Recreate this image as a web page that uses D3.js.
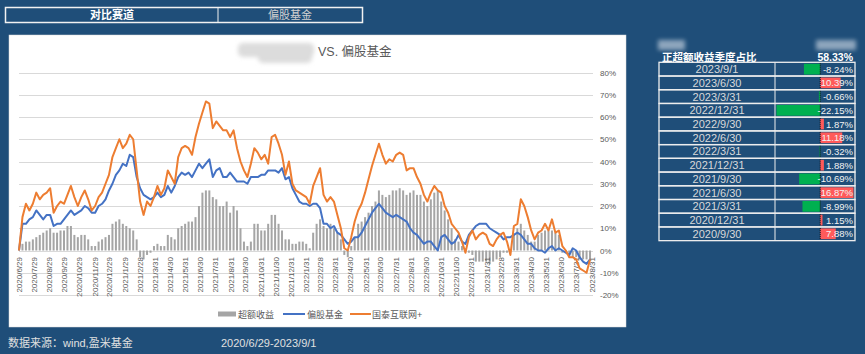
<!DOCTYPE html>
<html>
<head>
<meta charset="utf-8">
<script src="https://cdn.jsdelivr.net/npm/d3@7"></script>
<style>
  body { margin: 0; background: #1f4e79; }
  svg { display: block; font-family: "Liberation Sans", "Noto Sans CJK SC", sans-serif; }
</style>
</head>
<body>
<svg id="chart" width="865" height="354"></svg>
<script>
// ---- data (weekly samples from 2020/6/29) ----
const START = new Date(2020, 5, 29);
const END = new Date(2023, 8, 1);

const xTickLabels = [
  "2020/6/29", "2020/7/29", "2020/8/29", "2020/9/29", "2020/10/29", "2020/11/29", "2020/12/29",
  "2021/1/29", "2021/2/28", "2021/3/31", "2021/4/30", "2021/5/31", "2021/6/30", "2021/7/31",
  "2021/8/31", "2021/9/30", "2021/10/31", "2021/11/30", "2021/12/31", "2022/1/31", "2022/2/28",
  "2022/3/31", "2022/4/30", "2022/5/31", "2022/6/30", "2022/7/31", "2022/8/31", "2022/9/30",
  "2022/10/31", "2022/11/30", "2022/12/31", "2023/1/31", "2023/2/28", "2023/3/31", "2023/4/30",
  "2023/5/31", "2023/6/30", "2023/7/31", "2023/8/31",
];
const yTicks = [-20, -10, 0, 10, 20, 30, 40, 50, 60, 70, 80];

// 国泰互联网+ cumulative return (%)
const guotai = [
  0, 15, 21, 18, 21, 26, 23, 25, 26, 28, 17, 20, 22, 21, 25, 29, 24, 20, 24, 27,
  23, 18, 20, 24, 26, 30, 34, 42, 46, 50, 46, 48, 52, 50, 36, 22, 16, 22, 20, 24,
  29, 25, 28, 36, 33, 30, 42, 46, 47, 46, 43, 51, 57, 62, 67, 66, 55, 58, 56, 54,
  54, 51, 54, 46, 40, 36, 33, 39, 46, 44, 41, 43, 39, 51, 52, 48, 43, 34, 40, 30,
  27, 26, 25, 24, 21, 29, 33, 37, 25, 22, 24, 22, 16, 10, 1, 0, 6, 13, 18, 21,
  26, 32, 38, 43, 48, 43, 39, 41, 40, 43, 44, 43, 36, 37, 37, 33, 30, 25, 22, 26,
  29, 27, 26, 20, 17, 12, 10, 8, 4, -1, 6, 9, 5, 7, 8, 7, 3, 2, 5, 7,
  8, 4, -2, 11, 12, 23, 20, 15, 9, 5, 8, 9, 12, 9, 14, 8, 9, 2, 0, -3,
  -3, -4, -8, -9, -10, -4,
];
// 偏股基金 cumulative return (%)
const fundIndex = [
  0, 12, 12, 14, 15, 18, 16, 14, 16, 16, 11, 12, 12, 14, 16, 18, 16, 17, 18, 20,
  19, 17, 17, 20, 21, 23, 27, 30, 34, 36, 39, 38, 43, 42, 33, 28, 25, 24, 23, 24,
  26, 24, 25, 29, 26, 29, 33, 35, 34, 35, 33, 36, 39, 37, 39, 41, 33, 36, 37, 33,
  33, 35, 33, 31, 31, 31, 30, 33, 33, 33, 34, 34, 36, 36, 36, 35, 37, 32, 33, 28,
  25, 22, 21, 21, 20, 21, 21, 19, 12, 12, 10, 11, 8, 7, 5, 3, 4, 6, 6, 8,
  11, 14, 17, 19, 21, 19, 17, 16, 15, 16, 15, 14, 13, 10, 8, 7, 5, 3, 4, 4,
  2, 0, 6, 7, 5, 3, 4, 7, 4, 3, 7, 9, 11, 12, 12, 12, 10, 9, 8, 7,
  5, 6, 6, 7, 8, 7, 5, 3, 3, 1, 0, 0, -1, 1, 2, 0, 1, 0, -1, -2,
  1, 0, -3, -5, -6, -4,
];
// 超额收益 (%)
const excess = [
  0, 3, 4, 4, 5, 6, 7, 8, 9, 10, 8, 8, 9, 9, 11, 11, 7, 6, 7, 7,
  5, 2, 2, 4, 5, 6, 7, 12, 13, 14, 12, 11, 10, 9, 5, -3, -4, -2, -1, 2,
  3, 2, 2, 7, 6, 5, 10, 11, 12, 13, 13, 15, 20, 26, 27, 27, 24, 23, 20, 20,
  22, 17, 20, 18, 10, 4, 2, 4, 12, 12, 9, 9, 12, 16, 16, 12, 9, 5, 5, 3,
  3, 4, 4, 3, 1, 8, 12, 14, 11, 10, 12, 10, 8, 5, -2, -3, 2, 6, 12, 13,
  15, 17, 20, 22, 27, 25, 24, 25, 27, 27, 28, 27, 25, 26, 27, 25, 25, 22, 20, 23,
  26, 27, 22, 18, 14, 10, 5, 4, 2, 1, -1, -2, -5, -5, -5, -5, -6, -5, -4, -3,
  -1, -1, 0, 7, 10, 12, 9, 7, 4, 4, 7, 8, 9, 9, 9, 8, 7, -1, -1, -3,
  -3, -3, -4, -4, -4, -4,
];
const seriesNames = ["超额收益", "偏股基金", "国泰互联网+"];

const quarterDates = [
  "2023/9/1", "2023/6/30", "2023/3/31", "2022/12/31", "2022/9/30", "2022/6/30", "2022/3/31",
  "2021/12/31", "2021/9/30", "2021/6/30", "2021/3/31", "2020/12/31", "2020/9/30",
];
const quarterExcess = [-8.24, 10.39, -0.66, -22.15, 1.87, 11.18, -0.32, 1.88, -10.69, 16.87, -8.99, 1.15, 7.88];
const positiveShare = "58.33%";
const headerCells = ["对比赛道", "偏股基金"];

const COLORS = {
  bg: "#1f4e79",
  excess: "#a5a5a5",
  fund: "#4472c4",
  guotai: "#ed7d31",
  grid: "#d9d9d9",
  axisText: "#595959",
  up: "#ff5a5a",
  down: "#00b050",
};

const svg = d3.select("#chart");
const defs = svg.append("defs");
defs.append("filter").attr("id", "blur").attr("x", "-30%").attr("y", "-60%").attr("width", "160%").attr("height", "220%")
  .append("feGaussianBlur").attr("stdDeviation", 2.2);

// ---- header box ----
const hdr = svg.append("g");
hdr.append("rect").attr("x", 5.5).attr("y", 7.5).attr("width", 357).attr("height", 15)
  .attr("fill", "none").attr("stroke", "#f2f2f2").attr("stroke-width", 1.5);
hdr.append("line").attr("x1", 218).attr("x2", 218).attr("y1", 7.5).attr("y2", 22.5)
  .attr("stroke", "#f2f2f2").attr("stroke-width", 1);
hdr.append("text").attr("x", 112).attr("y", 19).attr("text-anchor", "middle")
  .attr("font-size", 11).attr("font-weight", "bold").attr("fill", "#ffffff").text(headerCells[0]);
hdr.append("text").attr("x", 290).attr("y", 19).attr("text-anchor", "middle")
  .attr("font-size", 11).attr("fill", "#d0d0d0").text(headerCells[1]);

// ---- chart panel ----
svg.append("rect").attr("x", 9).attr("y", 35).attr("width", 617).attr("height", 292)
  .attr("fill", "#ffffff").attr("stroke", "#d9d9d9").attr("stroke-width", 0.5);

// blurred name before the title
const blurG = svg.append("g").attr("filter", "url(#blur)").attr("fill", "#dcdcdc");
blurG.append("rect").attr("x", 238).attr("y", 43).attr("width", 76).attr("height", 14).attr("rx", 5);
blurG.append("rect").attr("x", 258).attr("y", 52).attr("width", 54).attr("height", 11).attr("rx", 5);
svg.append("text").attr("x", 318).attr("y", 56).attr("font-size", 12.5).attr("fill", COLORS.axisText)
  .text("VS. 偏股基金");

const weeks = d3.range(excess.length).map((i) => d3.timeDay.offset(START, i * 7));
const x = d3.scaleTime().domain([START, END]).range([19, 592]);
const y = d3.scaleLinear().domain([-20, 80]).range([295, 72.5]);
const parse = d3.timeParse("%Y/%m/%d");

// gridlines + right y labels
const grid = svg.append("g");
grid.selectAll("line").data(yTicks).join("line")
  .attr("x1", 19).attr("x2", 593)
  .attr("y1", (d) => Math.round(y(d)) + 0.5).attr("y2", (d) => Math.round(y(d)) + 0.5)
  .attr("stroke", COLORS.grid).attr("stroke-width", 1);
grid.selectAll("text").data(yTicks).join("text")
  .attr("x", 600).attr("y", (d) => y(d) + 3)
  .attr("font-size", 8).attr("fill", COLORS.axisText)
  .text((d) => `${d}%`);

// excess bars
svg.append("g").selectAll("rect").data(excess).join("rect")
  .attr("x", (d, i) => x(weeks[i]) - 1)
  .attr("width", 2)
  .attr("y", (d) => Math.min(y(d), y(0)))
  .attr("height", (d) => Math.abs(y(d) - y(0)))
  .attr("fill", COLORS.excess);

// x labels (rotated)
svg.append("g").selectAll("text").data(xTickLabels).join("text")
  .attr("transform", (d) => `translate(${x(parse(d)) + 3},257) rotate(-90)`)
  .attr("text-anchor", "end")
  .attr("font-size", 8).attr("fill", COLORS.axisText)
  .text((d) => d);

// lines
const line = d3.line().x((d, i) => x(weeks[i])).y((d) => y(d));
svg.append("path").datum(fundIndex).attr("d", line)
  .attr("fill", "none").attr("stroke", COLORS.fund).attr("stroke-width", 2).attr("stroke-linejoin", "round");
svg.append("path").datum(guotai).attr("d", line)
  .attr("fill", "none").attr("stroke", COLORS.guotai).attr("stroke-width", 2).attr("stroke-linejoin", "round");

// legend
const legend = svg.append("g");
const legendX = [218, 283, 350];
legend.append("rect").attr("x", legendX[0]).attr("y", 311.5).attr("width", 18).attr("height", 5).attr("fill", COLORS.excess);
legend.append("line").attr("x1", legendX[1]).attr("x2", legendX[1] + 22).attr("y1", 314).attr("y2", 314)
  .attr("stroke", COLORS.fund).attr("stroke-width", 2);
legend.append("line").attr("x1", legendX[2]).attr("x2", legendX[2] + 21).attr("y1", 314).attr("y2", 314)
  .attr("stroke", COLORS.guotai).attr("stroke-width", 2);
[[legendX[0] + 20, seriesNames[0]], [legendX[1] + 24, seriesNames[1]], [legendX[2] + 22, seriesNames[2]]].forEach(([lx, t]) => {
  legend.append("text").attr("x", lx).attr("y", 317.5).attr("font-size", 9).attr("fill", COLORS.axisText).text(t);
});

// footer
svg.append("text").attr("x", 8).attr("y", 347).attr("font-size", 11).attr("fill", "#e0e0e0").text("数据来源：wind,盈米基金");
svg.append("text").attr("x", 221).attr("y", 347).attr("font-size", 11).attr("fill", "#e0e0e0").text("2020/6/29-2023/9/1");

// ---- right table ----
const tbl = svg.append("g");
const tblBlur = tbl.append("g").attr("filter", "url(#blur)").attr("fill", "#a9bbce").attr("opacity", 0.8);
tblBlur.append("rect").attr("x", 658).attr("y", 40).attr("width", 27).attr("height", 10);
tblBlur.append("rect").attr("x", 816).attr("y", 40).attr("width", 40).attr("height", 10);
tbl.append("text").attr("x", 662).attr("y", 61).attr("font-size", 10.5).attr("font-weight", "bold")
  .attr("fill", "#ffffff").text("正超额收益季度占比");
tbl.append("text").attr("x", 853).attr("y", 61).attr("text-anchor", "end").attr("font-size", 10.5)
  .attr("font-weight", "bold").attr("fill", "#ffffff").text(positiveShare);

const rowTop = 62.3, rowH = 13.72, tLeft = 659, tMid = 775, tRight = 855;
const dbx = d3.scaleLinear().domain([d3.min(quarterExcess), d3.max(quarterExcess)]).range([776.5, 853.5]);
const rows = tbl.selectAll("g.row").data(quarterDates).join("g").attr("class", "row")
  .attr("transform", (d, i) => `translate(0,${rowTop + i * rowH})`);
rows.append("rect").attr("x", (d, i) => Math.min(dbx(quarterExcess[i]), dbx(0)))
  .attr("y", 1.5).attr("height", rowH - 3)
  .attr("width", (d, i) => Math.abs(dbx(quarterExcess[i]) - dbx(0)))
  .attr("fill", (d, i) => (quarterExcess[i] >= 0 ? COLORS.up : COLORS.down));
rows.append("line").attr("x1", dbx(0)).attr("x2", dbx(0)).attr("y1", 1).attr("y2", rowH - 1)
  .attr("stroke", "#111").attr("stroke-width", 1).attr("stroke-dasharray", "1,1");
rows.append("rect").attr("x", tLeft).attr("y", 0).attr("width", tRight - tLeft).attr("height", rowH)
  .attr("fill", "none").attr("stroke", "#eeeeee").attr("stroke-width", 1.3);
rows.append("line").attr("x1", tMid).attr("x2", tMid).attr("y1", 0).attr("y2", rowH)
  .attr("stroke", "#eeeeee").attr("stroke-width", 1);
rows.append("text").attr("x", (tLeft + tMid) / 2).attr("y", rowH / 2 + 4).attr("text-anchor", "middle")
  .attr("font-size", 11).attr("fill", "#d9d9d9").text((d) => d);
rows.append("text").attr("x", 853).attr("y", rowH / 2 + 3.5).attr("text-anchor", "end")
  .attr("font-size", 9.5).attr("fill", "#f2f2f2")
  .text((d, i) => `${quarterExcess[i].toFixed(2)}%`);
</script>
</body>
</html>
